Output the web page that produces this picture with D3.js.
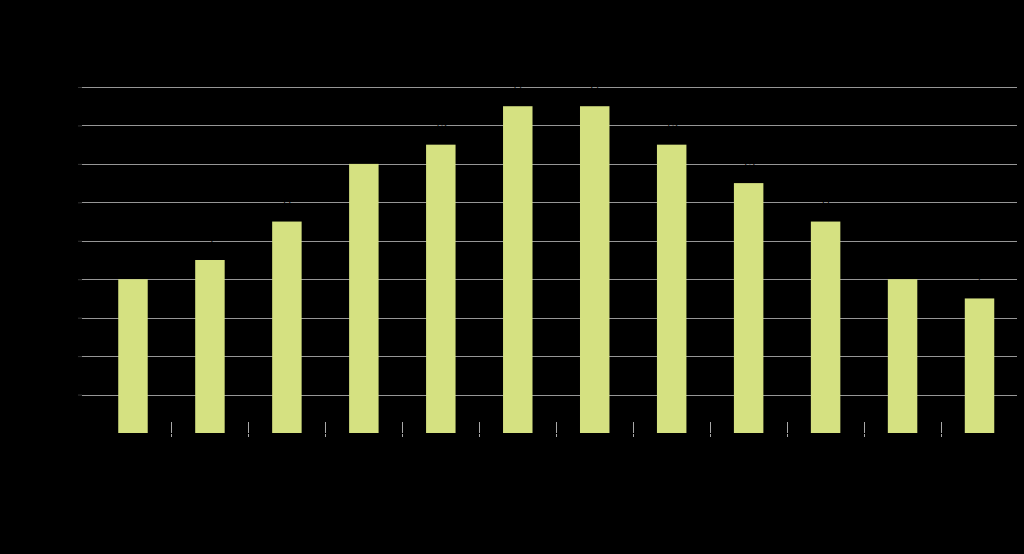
<!DOCTYPE html>
<html>
<head>
<meta charset="utf-8">
<script src="https://cdn.jsdelivr.net/npm/d3@7"></script>
<style>
  html, body { margin: 0; padding: 0; background: #000; }
  svg { display: block; }
  text { font-family: "Liberation Sans", Arial, sans-serif; }
</style>
</head>
<body>
<svg id="chart" width="1024" height="554"></svg>
<script>
const months = ["Jan", "Feb", "Mar", "Apr", "May", "Jun", "Jul", "Aug", "Sep", "Oct", "Nov", "Dec"];
const values = [8, 9, 11, 14, 15, 17, 17, 15, 13, 11, 8, 7];
const yTicks = [2, 4, 6, 8, 10, 12, 14, 16, 18];
const titleText = "Average Monthly Temperature (°C)";

const svg = d3.select("#chart");
const W = 1024, H = 554;
const plot = { left: 94.5, right: 1018, top: 87, bottom: 433 };
const gridLeft = 82;

svg.append("rect").attr("width", W).attr("height", H).attr("fill", "#000");

const x = d3.scaleBand()
  .domain(months)
  .range([plot.left, plot.right])
  .paddingInner(0.617)
  .paddingOuter(0.3085);

const y = d3.scaleLinear().domain([0, 18]).range([plot.bottom, plot.top]);

// title (black, as in reference)
svg.append("text")
  .attr("x", W / 2).attr("y", 40)
  .attr("text-anchor", "middle")
  .attr("font-size", 18)
  .attr("fill", "#000")
  .text(titleText);

// gridlines
svg.append("g").selectAll("line")
  .data(yTicks).join("line")
  .attr("x1", gridLeft).attr("x2", plot.right - 1)
  .attr("y1", d => Math.round(y(d)) + 0.5).attr("y2", d => Math.round(y(d)) + 0.5)
  .attr("stroke", "#969696").attr("stroke-width", 1);

// y axis labels (black)
const yAxis = d3.axisLeft(y).tickValues(yTicks).tickSize(4).tickPadding(6);
const gy = svg.append("g").attr("transform", `translate(${gridLeft},0)`).call(yAxis);
gy.select(".domain").remove();
gy.selectAll(".tick line").attr("stroke", "#333");
gy.selectAll(".tick text").attr("fill", "#000").attr("font-size", 12);

// bars
svg.append("g").selectAll("rect")
  .data(values).join("rect")
  .attr("x", (d, i) => x(months[i]))
  .attr("y", d => y(d))
  .attr("width", x.bandwidth())
  .attr("height", d => y(0) - y(d))
  .attr("fill", "#d5e181");

// value labels (black)
svg.append("g").selectAll("text")
  .data(values).join("text")
  .attr("x", (d, i) => x(months[i]) + x.bandwidth() / 2)
  .attr("y", d => y(d) - 16)
  .attr("text-anchor", "middle")
  .attr("font-size", 11)
  .attr("fill", "#000")
  .text(d => d);

// tick marks between bands
const step = x.step();
const bounds = months.slice(1).map(m => x(m) - (step - x.bandwidth()) / 2);
svg.append("g").selectAll("line")
  .data(bounds).join("line")
  .attr("x1", d => Math.round(d) + 0.5).attr("x2", d => Math.round(d) + 0.5)
  .attr("y1", plot.bottom - 11).attr("y2", plot.bottom + 4)
  .attr("stroke", "#a8a8a8").attr("stroke-width", 1);

// x axis labels (black)
const xAxis = d3.axisBottom(x).tickSize(0).tickPadding(12);
const gx = svg.append("g").attr("transform", `translate(0,${plot.bottom})`).call(xAxis);
gx.select(".domain").attr("stroke", "#000");
gx.selectAll(".tick text").attr("fill", "#000").attr("font-size", 12);
</script>
</body>
</html>
